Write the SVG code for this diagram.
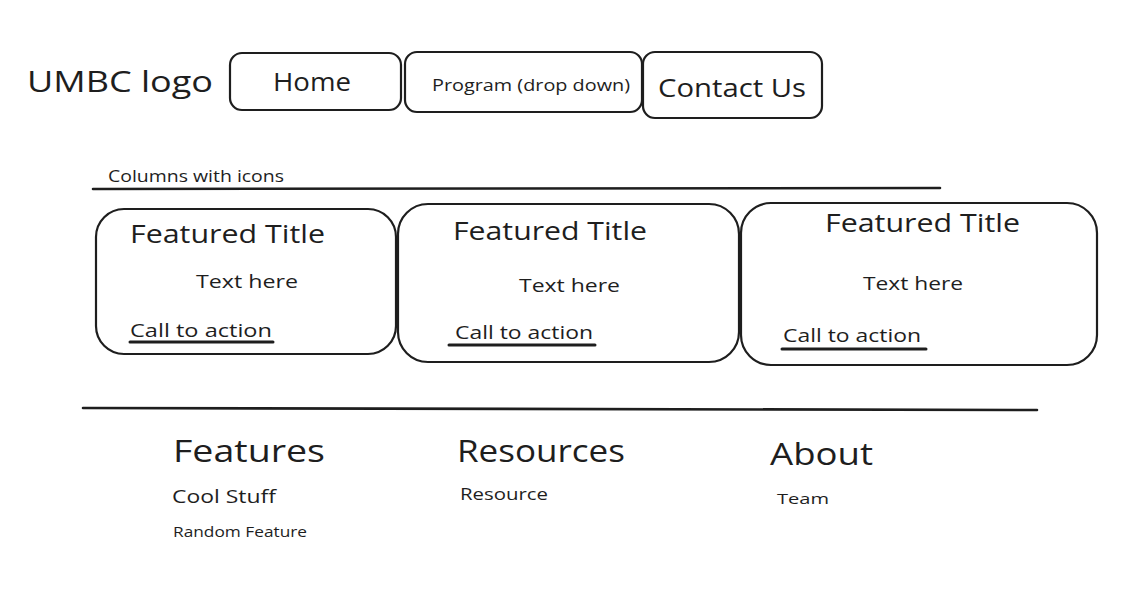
<svg xmlns="http://www.w3.org/2000/svg" width="1141" height="598" viewBox="0 0 1141 598">
<style>
.box{fill:none;stroke:#1e1e1e;stroke-width:2.2}
.ln{stroke:#1e1e1e;stroke-width:2.6;stroke-linecap:round;fill:none}
.ul{stroke:#1e1e1e;stroke-width:3;stroke-linecap:round}
text{font-family:"Open Sans","Liberation Sans",sans-serif;fill:#1e1e1e}
</style>
<rect width="1141" height="598" fill="#ffffff"/>
<g id="logo"><text x="27" y="92" font-size="30" textLength="186" lengthAdjust="spacingAndGlyphs">UMBC logo</text></g>
<g id="nav-home"><rect class="box" x="230" y="53" width="171" height="57" rx="12"/><text x="273" y="91" font-size="25" textLength="78" lengthAdjust="spacingAndGlyphs">Home</text></g>
<g id="nav-program"><rect class="box" x="405" y="52" width="237" height="60" rx="12"/><text x="432" y="91" font-size="17" textLength="198" lengthAdjust="spacingAndGlyphs">Program (drop down)</text></g>
<g id="nav-contact"><rect class="box" x="643" y="52" width="179" height="66" rx="12"/><text x="658" y="97" font-size="25" textLength="148" lengthAdjust="spacingAndGlyphs">Contact Us</text></g>
<g id="columns-label"><text x="108" y="182" font-size="16" textLength="176" lengthAdjust="spacingAndGlyphs">Columns with icons</text></g>
<g id="lines">
<line class="ln" x1="93" y1="189" x2="940" y2="188"/>
<line class="ln" x1="83" y1="408" x2="1037" y2="410"/>
</g>
<g id="card1"><rect class="box" x="96" y="209" width="300" height="145" rx="28"/>
<text x="130" y="243" font-size="25" textLength="195" lengthAdjust="spacingAndGlyphs">Featured Title</text>
<text x="196" y="288" font-size="19" textLength="102" lengthAdjust="spacingAndGlyphs">Text here</text>
<text x="130" y="337" font-size="18" textLength="142" lengthAdjust="spacingAndGlyphs">Call to action</text>
<line class="ul" x1="130" y1="342" x2="273" y2="342"/></g>
<g id="card2"><rect class="box" x="398" y="204" width="341" height="158" rx="30"/>
<text x="453" y="240" font-size="25" textLength="194" lengthAdjust="spacingAndGlyphs">Featured Title</text>
<text x="519" y="292" font-size="19" textLength="101" lengthAdjust="spacingAndGlyphs">Text here</text>
<text x="455" y="339" font-size="18" textLength="138" lengthAdjust="spacingAndGlyphs">Call to action</text>
<line class="ul" x1="449" y1="345" x2="595" y2="345"/></g>
<g id="card3"><rect class="box" x="741" y="203" width="356" height="162" rx="30"/>
<text x="825" y="232" font-size="25" textLength="195" lengthAdjust="spacingAndGlyphs">Featured Title</text>
<text x="863" y="290" font-size="19" textLength="100" lengthAdjust="spacingAndGlyphs">Text here</text>
<text x="783" y="342" font-size="18" textLength="138" lengthAdjust="spacingAndGlyphs">Call to action</text>
<line class="ul" x1="782" y1="349" x2="926" y2="349"/></g>
<g id="footer-features">
<text x="173" y="462" font-size="31" textLength="152" lengthAdjust="spacingAndGlyphs">Features</text>
<text x="172" y="503" font-size="18" textLength="104" lengthAdjust="spacingAndGlyphs">Cool Stuff</text>
<text x="173" y="537" font-size="15" textLength="134" lengthAdjust="spacingAndGlyphs">Random Feature</text>
</g>
<g id="footer-resources">
<text x="457" y="462" font-size="31" textLength="168" lengthAdjust="spacingAndGlyphs">Resources</text>
<text x="460" y="500" font-size="16" textLength="88" lengthAdjust="spacingAndGlyphs">Resource</text>
</g>
<g id="footer-about">
<text x="770" y="465" font-size="31" textLength="103" lengthAdjust="spacingAndGlyphs">About</text>
<text x="777" y="504" font-size="15" textLength="52" lengthAdjust="spacingAndGlyphs">Team</text>
</g>
</svg>
